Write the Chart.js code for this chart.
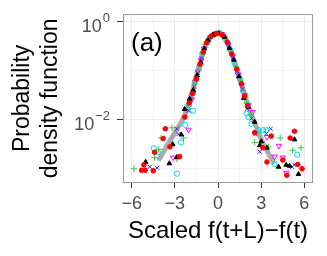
<!DOCTYPE html>
<html><head><meta charset="utf-8">
<script src="https://cdn.jsdelivr.net/npm/chart.js@4.4.1/dist/chart.umd.min.js"></script>
<style>html,body{margin:0;padding:0;background:#fff;}#wrap{width:327px;height:256px;}</style>
</head><body><div id="wrap"><canvas id="c" width="327" height="256"></canvas></div>
<script>
// Values are [x, log10(pdf)]
const redPts = [[-2.0,-1.66],[-1.78,-1.47],[-1.5,-1.17],[-1.25,-0.87],[-1.02,-0.62],[-0.8,-0.43],[-0.5,-0.3],[-0.1,-0.24],[0.3,-0.27],[0.65,-0.42],[0.95,-0.66],[1.3,-0.97],[1.62,-1.27],[1.85,-1.52],[2.05,-1.72],
  [-2.3,-1.95],[-3.66,-2.19],[-3.81,-2.39],[-3.34,-2.56],[-2.67,-2.76],[-5.15,-2.93],[-5.31,-3.04],[-5.06,-3.04],[-4.5,-3.05],[-4.41,-2.67],
  [2.55,-2.27],[3.7,-2.34],[3.12,-2.58],[5.31,-2.24],[5.01,-2.38],[4.5,-2.83],[3.4,-2.87],[5.54,-2.92],[5.84,-3.01],[4.78,-3.14]];
const blackPts = [[-1.98,-1.58],[-1.72,-1.40],[-1.45,-1.10],[-1.2,-0.83],[-0.95,-0.55],[-0.7,-0.38],[-0.35,-0.27],[0.05,-0.24],[0.45,-0.31],[0.8,-0.54],[1.1,-0.78],[1.45,-1.12],[1.79,-1.56],[2.1,-1.74],
  [-2.32,-1.79],[-2.55,-2.31],[-3.15,-2.51],[-2.85,-2.77],[-3.38,-2.9],[-5.03,-2.87],
  [2.55,-2.05],[2.9,-2.53],[3.4,-2.58],[3.0,-2.45],[5.31,-2.41],[4.21,-2.97],[4.74,-2.93],[4.97,-2.95],[5.59,-3.12]];
const greenPts = [[-2.1,-1.70],[-1.82,-1.50],[-1.6,-1.27],[-1.35,-0.98],[-1.1,-0.66],[-0.9,-0.46],[-0.6,-0.34],[-0.2,-0.25],[0.2,-0.25],[0.55,-0.37],[0.9,-0.6],[1.25,-0.92],[1.55,-1.2],[1.98,-1.66],
  [-3.2,-2.17],[-2.39,-2.38],[-3.95,-2.38],[-4.12,-2.61],[-4.41,-2.78],[-2.85,-2.81],[-5.84,-3.01],
  [2.3,-1.9],[2.55,-2.47],[3.5,-2.56],[4.32,-2.38],[5.19,-2.63],[5.77,-2.58]];
const bluePts = [[-1.9,-1.55],[-1.65,-1.33],[-1.4,-1.05],[-1.15,-0.74],[-0.75,-0.40],[-0.4,-0.28],[0.0,-0.23],[0.4,-0.29],[0.75,-0.5],[1.05,-0.73],[1.35,-1.02],[1.7,-1.38],[2.02,-1.78],
  [-2.05,-1.82],[-2.85,-2.19],[-2.75,-2.3],[-4.74,-2.97],[-4.23,-2.99],
  [2.32,-1.98],[2.6,-2.3],[3.66,-2.19],[3.36,-2.29],[2.9,-2.66],[5.15,-2.97],[5.3,-2.93]];
const cyanPts = [[-2.0,-1.7],[-1.74,-1.45],[-1.55,-1.2],[-1.3,-0.92],[-1.08,-0.65],[-0.6,-0.35],[-0.3,-0.26],[0.1,-0.23],[0.5,-0.33],[0.85,-0.57],[1.15,-0.85],[1.5,-1.15],[1.75,-1.42],[1.98,-1.88],
  [-1.74,-1.82],[-2.28,-2.11],[-2.57,-2.47],[-4.46,-2.59],[-4.19,-2.67],[-2.85,-3.11],
  [2.1,-1.95],[2.32,-2.09],[2.85,-2.22],[3.13,-2.22],[3.36,-2.22],[5.5,-2.72],[3.93,-2.91]];
const magentaPts = [[-1.82,-1.59],[-1.6,-1.23],[-1.4,-1.02],[-1.18,-0.78],[-0.98,-0.55],[-0.55,-0.32],[-0.15,-0.24],[0.25,-0.25],[0.7,-0.46],[1.0,-0.7],[1.4,-1.08],[1.65,-1.3],[1.85,-1.5],[2.09,-1.71],
  [-2.05,-2.21],[-3.12,-2.78],[2.4,-1.85],[3.4,-2.36],[4.23,-2.54],[3.93,-2.76],[4.5,-2.78],[4.74,-3.09]];
const fitCurve = [[-4.15,-2.84],[-3.5,-2.52],[-3.0,-2.27],[-2.5,-2.03],[-2.15,-1.8],[-1.8,-1.46],[-1.5,-1.1],[-1.25,-0.87],[-1.0,-0.59],[-0.75,-0.42],[-0.5,-0.31],[-0.25,-0.25],[0,-0.23],[0.25,-0.25],[0.5,-0.34],[0.75,-0.5],[1.0,-0.69],[1.25,-0.92],[1.5,-1.15],[1.75,-1.4],[2.0,-1.64],[2.25,-1.84],[2.5,-2.03],[2.85,-2.29],[3.25,-2.55],[3.6,-2.74],[3.93,-2.9]];
const xTicks = [-6,-4.5,-3,-1.5,0,1.5,3,4.5,6];
const xMajor = [-6,-3,0,3,6];
const yTicks = [1e-3,1e-2,1e-1,1];
const yMajor = [{v:1,sup:'0'},{v:1e-2,sup:'\u22122'}];
const panelLabel = '(a)';
const xTitle = 'Scaled f(t+L)\u2212f(t)';
const yTitle = ['Probability','density function'];

const toXY = a => a.map(p => ({x:p[0], y:Math.pow(10,p[1])}));
const FONT = "'Liberation Sans', Arial, sans-serif";

function ds(pts, color, style, r, fill, extra) {
  return Object.assign({data:toXY(pts), pointStyle:style, pointRadius:r, pointBorderColor:color,
    pointBackgroundColor: fill ? color : 'rgba(0,0,0,0)', pointBorderWidth:1, showLine:false}, extra||{});
}

const framePlugin = {
  id:'frame',
  afterDraw(chart){
    const {ctx, chartArea:a, scales} = chart;
    ctx.save();
    ctx.strokeStyle = '#9a9a9a'; ctx.lineWidth = 1;
    ctx.strokeRect(Math.round(a.left)+0.5, Math.round(a.top)+0.5, Math.round(a.right-a.left)-1, Math.round(a.bottom-a.top)-1);
    ctx.fillStyle = '#4d4d4d';
    ctx.textBaseline = 'alphabetic';
    yMajor.forEach(t => {
      const py = scales.y.getPixelForValue(t.v);
      ctx.font = '13px ' + FONT;
      ctx.textAlign = 'right';
      const sw = ctx.measureText(t.sup).width;
      ctx.fillText(t.sup, 110, py + 0.5);
      ctx.font = '18px ' + FONT;
      ctx.fillText('10', 110 - sw - 1, py + 10.5);
    });
    ctx.fillStyle = '#000';
    ctx.font = '26px ' + FONT;
    ctx.textAlign = 'left';
    ctx.fillText(panelLabel, a.left + 8, a.top + 37);
    ctx.restore();
  }
};

new Chart(document.getElementById('c'), {
  type:'scatter',
  data:{datasets:[
    ds(redPts,'#ff0000','circle',2.3,true),
    ds(blackPts,'#000000','triangle',2.7,true),
    ds(greenPts,'#3ec83e','cross',3.2,false),
    ds(bluePts,'#2f2fff','crossRot',2.9,false),
    ds(cyanPts,'#00d8e8','circle',2.6,false),
    ds(magentaPts,'#ff00ff','triangle',3.1,false,{rotation:180}),
    {data:toXY(fitCurve), showLine:true, pointRadius:0, borderColor:'rgba(150,150,150,0.8)', borderWidth:5, order:10, tension:0.3}
  ]},
  options:{
    responsive:false, animation:false, devicePixelRatio:1,
    layout:{padding:{top:13, right:14, left:0, bottom:0}},
    plugins:{legend:{display:false}, tooltip:{enabled:false}},
    scales:{
      x:{type:'linear', min:-6.6, max:6.6,
        afterBuildTicks:s=>{s.ticks = xTicks.map(v=>({value:v}));},
        afterFit:s=>{s.height = 73;},
        grid:{color:c=> xMajor.includes(c.tick && c.tick.value) ? '#ebebeb' : '#f5f5f5',
              tickColor:c=> xMajor.includes(c.tick && c.tick.value) ? '#333333' : 'rgba(0,0,0,0)', tickLength:5, drawTicks:true},
        border:{display:false},
        ticks:{color:'#4d4d4d', font:{family:FONT, size:18}, padding:5, maxRotation:0, autoSkip:false,
          callback:v=> xMajor.includes(v) ? (v<0 ? '\u2212'+Math.abs(v) : String(v)) : ''},
        title:{display:true, text:xTitle, color:'#000', font:{family:FONT, size:24}, padding:{top:0,bottom:10}}
      },
      y:{type:'logarithmic', min:Math.pow(10,-3.30), max:Math.pow(10,0.163),
        afterBuildTicks:s=>{s.ticks = yTicks.map(v=>({value:v}));},
        afterFit:s=>{s.width = 123;},
        grid:{color:c=> (c.tick && (c.tick.value===1 || c.tick.value===1e-2)) ? '#ebebeb' : '#f5f5f5',
              tickColor:c=> (c.tick && (c.tick.value===1 || c.tick.value===1e-2)) ? '#333333' : 'rgba(0,0,0,0)', tickLength:6},
        border:{display:false},
        ticks:{callback:()=>'', font:{family:FONT, size:18}},
        title:{display:true, text:yTitle, color:'#000', font:{family:FONT, size:23, lineHeight:1.24}, padding:{top:8,bottom:0}}
      }
    }
  },
  plugins:[framePlugin]
});
</script></body></html>
